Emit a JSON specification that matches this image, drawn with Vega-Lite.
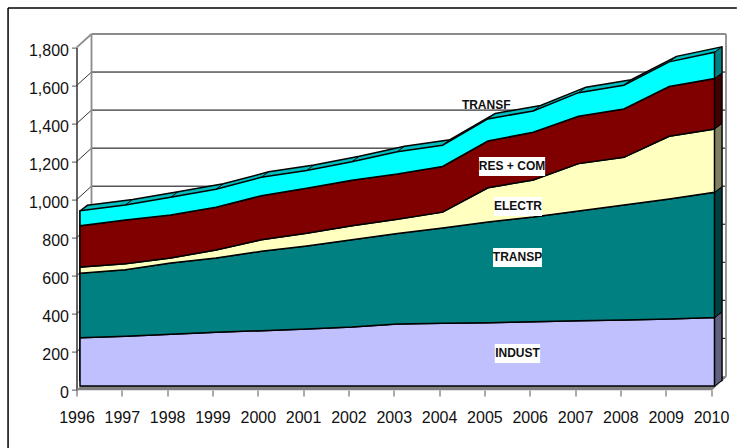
{"$schema":"https://vega.github.io/schema/vega-lite/v6.json","width":634.5,"height":342.4,"autosize":"none","padding":{"left":76.5,"top":47.6,"right":26,"bottom":58},"background":"white","config":{"view":{"stroke":null},"font":"Liberation Sans"},
"datasets":{
"series":[
{"year":1996,"sector":"INDUST","rank":1,"value":254},{"year":1997,"sector":"INDUST","rank":1,"value":261},{"year":1998,"sector":"INDUST","rank":1,"value":272},{"year":1999,"sector":"INDUST","rank":1,"value":282},{"year":2000,"sector":"INDUST","rank":1,"value":291},{"year":2001,"sector":"INDUST","rank":1,"value":300},{"year":2002,"sector":"INDUST","rank":1,"value":310},{"year":2003,"sector":"INDUST","rank":1,"value":326},{"year":2004,"sector":"INDUST","rank":1,"value":330},{"year":2005,"sector":"INDUST","rank":1,"value":333},{"year":2006,"sector":"INDUST","rank":1,"value":338},{"year":2007,"sector":"INDUST","rank":1,"value":343},{"year":2008,"sector":"INDUST","rank":1,"value":347},{"year":2009,"sector":"INDUST","rank":1,"value":352},{"year":2010,"sector":"INDUST","rank":1,"value":360},
{"year":1996,"sector":"TRANSP","rank":2,"value":339},{"year":1997,"sector":"TRANSP","rank":2,"value":350},{"year":1998,"sector":"TRANSP","rank":2,"value":375},{"year":1999,"sector":"TRANSP","rank":2,"value":391},{"year":2000,"sector":"TRANSP","rank":2,"value":417},{"year":2001,"sector":"TRANSP","rank":2,"value":436},{"year":2002,"sector":"TRANSP","rank":2,"value":459},{"year":2003,"sector":"TRANSP","rank":2,"value":476},{"year":2004,"sector":"TRANSP","rank":2,"value":501},{"year":2005,"sector":"TRANSP","rank":2,"value":529},{"year":2006,"sector":"TRANSP","rank":2,"value":550},{"year":2007,"sector":"TRANSP","rank":2,"value":577},{"year":2008,"sector":"TRANSP","rank":2,"value":604},{"year":2009,"sector":"TRANSP","rank":2,"value":631},{"year":2010,"sector":"TRANSP","rank":2,"value":658},
{"year":1996,"sector":"ELECTR","rank":3,"value":32},{"year":1997,"sector":"ELECTR","rank":3,"value":32},{"year":1998,"sector":"ELECTR","rank":3,"value":26},{"year":1999,"sector":"ELECTR","rank":3,"value":42},{"year":2000,"sector":"ELECTR","rank":3,"value":61},{"year":2001,"sector":"ELECTR","rank":3,"value":67},{"year":2002,"sector":"ELECTR","rank":3,"value":74},{"year":2003,"sector":"ELECTR","rank":3,"value":74},{"year":2004,"sector":"ELECTR","rank":3,"value":83},{"year":2005,"sector":"ELECTR","rank":3,"value":180},{"year":2006,"sector":"ELECTR","rank":3,"value":195},{"year":2007,"sector":"ELECTR","rank":3,"value":249},{"year":2008,"sector":"ELECTR","rank":3,"value":251},{"year":2009,"sector":"ELECTR","rank":3,"value":330},{"year":2010,"sector":"ELECTR","rank":3,"value":333},
{"year":1996,"sector":"RES + COM","rank":4,"value":217},{"year":1997,"sector":"RES + COM","rank":4,"value":230},{"year":1998,"sector":"RES + COM","rank":4,"value":226},{"year":1999,"sector":"RES + COM","rank":4,"value":225},{"year":2000,"sector":"RES + COM","rank":4,"value":231},{"year":2001,"sector":"RES + COM","rank":4,"value":237},{"year":2002,"sector":"RES + COM","rank":4,"value":239},{"year":2003,"sector":"RES + COM","rank":4,"value":239},{"year":2004,"sector":"RES + COM","rank":4,"value":240},{"year":2005,"sector":"RES + COM","rank":4,"value":246},{"year":2006,"sector":"RES + COM","rank":4,"value":251},{"year":2007,"sector":"RES + COM","rank":4,"value":249},{"year":2008,"sector":"RES + COM","rank":4,"value":254},{"year":2009,"sector":"RES + COM","rank":4,"value":261},{"year":2010,"sector":"RES + COM","rank":4,"value":265},
{"year":1996,"sector":"TRANSF","rank":5,"value":79},{"year":1997,"sector":"TRANSF","rank":5,"value":79},{"year":1998,"sector":"TRANSF","rank":5,"value":93},{"year":1999,"sector":"TRANSF","rank":5,"value":94},{"year":2000,"sector":"TRANSF","rank":5,"value":97},{"year":2001,"sector":"TRANSF","rank":5,"value":93},{"year":2002,"sector":"TRANSF","rank":5,"value":97},{"year":2003,"sector":"TRANSF","rank":5,"value":117},{"year":2004,"sector":"TRANSF","rank":5,"value":112},{"year":2005,"sector":"TRANSF","rank":5,"value":116},{"year":2006,"sector":"TRANSF","rank":5,"value":112},{"year":2007,"sector":"TRANSF","rank":5,"value":124},{"year":2008,"sector":"TRANSF","rank":5,"value":125},{"year":2009,"sector":"TRANSF","rank":5,"value":130},{"year":2010,"sector":"TRANSF","rank":5,"value":139}],
"totals":[{"year":1995.837,"total":891},{"year":1996,"total":921},{"year":1997,"total":952},{"year":1998,"total":992},{"year":1999,"total":1034},{"year":2000,"total":1097},{"year":2001,"total":1133},{"year":2002,"total":1179},{"year":2003,"total":1232},{"year":2004,"total":1266},{"year":2005,"total":1404},{"year":2006,"total":1446},{"year":2007,"total":1542},{"year":2008,"total":1581},{"year":2009,"total":1704},{"year":2010,"total":1754}],
"dividers":[{"year":1997,"yearBack":1997.163,"total":952,"back":981},{"year":1998,"yearBack":1998.163,"total":992,"back":1021},{"year":1999,"yearBack":1999.163,"total":1034,"back":1063},{"year":2000,"yearBack":2000.163,"total":1097,"back":1126},{"year":2001,"yearBack":2001.163,"total":1133,"back":1162},{"year":2002,"yearBack":2002.163,"total":1179,"back":1208},{"year":2003,"yearBack":2003.163,"total":1232,"back":1261},{"year":2004,"yearBack":2004.163,"total":1266,"back":1295},{"year":2005,"yearBack":2005.163,"total":1404,"back":1433},{"year":2006,"yearBack":2006.163,"total":1446,"back":1475},{"year":2007,"yearBack":2007.163,"total":1542,"back":1571},{"year":2008,"yearBack":2008.163,"total":1581,"back":1610},{"year":2009,"yearBack":2009.163,"total":1704,"back":1733}],
"sides":[
{"x":2010,"sector":"INDUST","lo":0,"hi":360},{"x":2010.163,"sector":"INDUST","lo":29,"hi":389},
{"x":2010,"sector":"TRANSP","lo":360,"hi":1018},{"x":2010.163,"sector":"TRANSP","lo":389,"hi":1047},
{"x":2010,"sector":"ELECTR","lo":1018,"hi":1351},{"x":2010.163,"sector":"ELECTR","lo":1047,"hi":1380},
{"x":2010,"sector":"RES + COM","lo":1351,"hi":1616},{"x":2010.163,"sector":"RES + COM","lo":1380,"hi":1645},
{"x":2010,"sector":"TRANSF","lo":1616,"hi":1754},{"x":2010.163,"sector":"TRANSF","lo":1645,"hi":1783}],
"grid":[{"value":200,"back":271.5},{"value":400,"back":471.5},{"value":600,"back":671.5},{"value":800,"back":871.5},{"value":1000,"back":1071.5},{"value":1200,"back":1271.5},{"value":1400,"back":1471.5},{"value":1600,"back":1671.5}],
"labels":[
{"name":"RES + COM","xc":2005.61,"yc":1175,"x0":2004.88,"x1":2006.34,"v0":1125,"v1":1225},
{"name":"ELECTR","xc":2005.74,"yc":965,"x0":2005.21,"x1":2006.27,"v0":915,"v1":1015},
{"name":"TRANSP","xc":2005.73,"yc":697,"x0":2005.19,"x1":2006.27,"v0":647,"v1":747},
{"name":"INDUST","xc":2005.73,"yc":192,"x0":2005.23,"x1":2006.23,"v0":142,"v1":242}],
"free":[{"name":"TRANSF","xc":2005.04,"yc":1498}]
},
"layer":[
{"data":{"values":[{"x0":1994.49,"x1":2010.57,"y0":2008,"y1":2008},{"x0":1994.49,"x1":1994.49,"y0":2008,"y1":-305}]},"mark":{"type":"rule","color":"#000000","strokeWidth":1.5},
"encoding":{"x":{"field":"x0","type":"quantitative","scale":{"domain":[1996,2010],"nice":false,"zero":false},
"axis":{"values":[1996,1997,1998,1999,2000,2001,2002,2003,2004,2005,2006,2007,2008,2009,2010],"labelExpr":"format(datum.value,'d')","title":null,"grid":false,"domain":false,"tickColor":"#555555","tickSize":6,"tickWidth":1,"labelFontSize":16,"labelColor":"#111111","labelPadding":13,"labelOverlap":false,"labelFlush":false}},"x2":{"field":"x1"},
"y":{"field":"y0","type":"quantitative","scale":{"domain":[0,1800],"nice":false},
"axis":{"values":[0,200,400,600,800,1000,1200,1400,1600,1800],"labelExpr":"format(datum.value,',')","title":null,"grid":false,"domain":true,"domainColor":"#333333","domainWidth":1.5,"tickColor":"#555555","tickSize":5,"tickWidth":1,"labelFontSize":16,"labelColor":"#111111","labelPadding":3,"labelOverlap":false,"labelOffset":2.5,"labelBound":false}},"y2":{"field":"y1"}}},
{"data":{"name":"grid"},"mark":{"type":"rule","color":"#000000","strokeWidth":1},"encoding":{"x":{"datum":1996.331,"type":"quantitative"},"x2":{"datum":2010.331},"y":{"field":"back","type":"quantitative","axis":{"values":[0,200,400,600,800,1000,1200,1400,1600,1800]}}}},
{"data":{"name":"grid"},"mark":{"type":"rule","color":"#333333","strokeWidth":1},"encoding":{"x":{"datum":1996,"type":"quantitative"},"x2":{"datum":1996.331},"y":{"field":"value","type":"quantitative","axis":{"values":[0,200,400,600,800,1000,1200,1400,1600,1800]}},"y2":{"field":"back"}}},
{"data":{"values":[{"x0":1996.331,"x1":2010.331,"y0":1871.5,"y1":1871.5},{"x0":1996.331,"x1":1996.331,"y0":71.5,"y1":1871.5},{"x0":2010.331,"x1":2010.331,"y0":71.5,"y1":1871.5},{"x0":1996,"x1":1996.331,"y0":1800,"y1":1871.5},{"x0":2010,"x1":2010.331,"y0":0,"y1":71.5}]},"mark":{"type":"rule","color":"#8c8c8c","strokeWidth":1.8},"encoding":{"x":{"field":"x0","type":"quantitative"},"x2":{"field":"x1"},"y":{"field":"y0","type":"quantitative","axis":{"values":[0,200,400,600,800,1000,1200,1400,1600,1800]}},"y2":{"field":"y1"}}},
{"data":{"values":[{"x":1996,"lo":0,"hi":0},{"x":1996.331,"lo":0,"hi":71.5},{"x":2010,"lo":0,"hi":71.5},{"x":2010.331,"lo":71.5,"hi":71.5}]},"mark":{"type":"area","orient":"vertical","fill":"#808080","stroke":"#808080","strokeWidth":0.5},"encoding":{"x":{"field":"x","type":"quantitative"},"y":{"field":"hi","type":"quantitative","axis":{"values":[0,200,400,600,800,1000,1200,1400,1600,1800]}},"y2":{"field":"lo"}}},
{"data":{"name":"totals"},"mark":{"type":"area","orient":"vertical","color":"#00bcbc","stroke":"#000000","strokeWidth":1.5,"xOffset":10.9,"yOffset":-9.5,"y2Offset":-9.5},"encoding":{"x":{"field":"year","type":"quantitative"},"y":{"field":"total","type":"quantitative","axis":{"values":[0,200,400,600,800,1000,1200,1400,1600,1800]}},"y2":{"datum":0}}},
{"data":{"name":"sides"},"mark":{"type":"area","orient":"vertical","stroke":"#000000","strokeWidth":1,"xOffset":3.5,"yOffset":-4,"y2Offset":-4},"encoding":{"x":{"field":"x","type":"quantitative"},"y":{"field":"lo","type":"quantitative","axis":{"values":[0,200,400,600,800,1000,1200,1400,1600,1800]}},"y2":{"field":"hi"},"detail":{"field":"sector"},"fill":{"field":"sector","type":"nominal","legend":null,"scale":{"domain":["INDUST","TRANSP","ELECTR","RES + COM","TRANSF"],"range":["#606080","#004040","#808060","#400000","#008080"]}}}},
{"data":{"name":"series"},"mark":{"type":"area","stroke":"#000000","strokeWidth":1.5,"opacity":1,"xOffset":3.5,"yOffset":-4,"y2Offset":-4},"encoding":{"x":{"field":"year","type":"quantitative"},"y":{"field":"value","type":"quantitative","stack":"zero","axis":{"values":[0,200,400,600,800,1000,1200,1400,1600,1800]}},"order":{"field":"rank"},"color":{"field":"sector","type":"nominal","legend":null,"scale":{"domain":["INDUST","TRANSP","ELECTR","RES + COM","TRANSF"],"range":["#c0c0ff","#008080","#ffffc0","#800000","#00ffff"]}}}},
{"data":{"name":"dividers"},"mark":{"type":"rule","color":"#000000","strokeWidth":1,"xOffset":3.5,"yOffset":-4,"x2Offset":3.5,"y2Offset":-4},"encoding":{"x":{"field":"year","type":"quantitative"},"x2":{"field":"yearBack"},"y":{"field":"total","type":"quantitative","axis":{"values":[0,200,400,600,800,1000,1200,1400,1600,1800]}},"y2":{"field":"back"}}},
{"data":{"name":"labels"},"mark":{"type":"rect","color":"#ffffff"},"encoding":{"x":{"field":"x0","type":"quantitative"},"x2":{"field":"x1"},"y":{"field":"v0","type":"quantitative","axis":{"values":[0,200,400,600,800,1000,1200,1400,1600,1800]}},"y2":{"field":"v1"}}},
{"data":{"name":"labels"},"mark":{"type":"text","fontSize":12,"fontWeight":"bold","font":"Liberation Sans","color":"#111111"},"encoding":{"x":{"field":"xc","type":"quantitative"},"y":{"field":"yc","type":"quantitative","axis":{"values":[0,200,400,600,800,1000,1200,1400,1600,1800]}},"text":{"field":"name"}}},
{"data":{"name":"free"},"mark":{"type":"text","fontSize":12,"fontWeight":"bold","font":"Liberation Sans","color":"#111111"},"encoding":{"x":{"field":"xc","type":"quantitative"},"y":{"field":"yc","type":"quantitative","axis":{"values":[0,200,400,600,800,1000,1200,1400,1600,1800]}},"text":{"field":"name"}}}
],
"resolve":{"scale":{"color":"independent","fill":"independent"}}}
